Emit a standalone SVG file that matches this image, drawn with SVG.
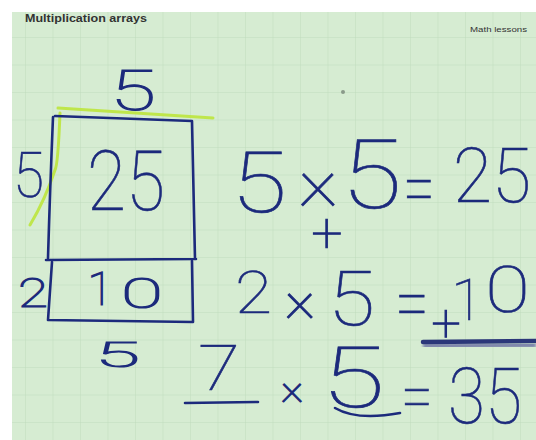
<svg xmlns="http://www.w3.org/2000/svg" width="536" height="440" viewBox="0 0 536 440">
<style>
.hw{font-family:Roboto,"Liberation Sans",sans-serif;font-weight:100;fill:#1c2a7c;stroke:#1c2a7c;stroke-width:0.6;}
.sm{stroke-width:1.1;}
.ink{fill:none;stroke:#1c2a7c;stroke-width:2.6;stroke-linecap:round;stroke-linejoin:round;}
.hl{fill:none;stroke:#bde63c;stroke-width:3;stroke-linecap:round;opacity:0.9;}
.ui{font-family:"Liberation Sans",Arial,sans-serif;fill:#333;}
</style>
<defs>
<pattern id="grid" x="25" y="37" width="27.5" height="27.5" patternUnits="userSpaceOnUse">
<path d="M0,0 V27.5 M0,0 H27.5" fill="none" stroke="#c0dbbd" stroke-width="1"/>
</pattern>
<filter id="blur" x="-10%" y="-100%" width="120%" height="300%"><feGaussianBlur stdDeviation="1.5"/></filter>
</defs>
<rect width="536" height="440" fill="#ffffff"/>
<rect x="12" y="12" width="524" height="428" fill="#d6ecd2"/>
<rect x="12" y="12" width="524" height="428" fill="url(#grid)"/>
<text class="ui" x="25" y="22" font-size="10" font-weight="bold" textLength="122" lengthAdjust="spacingAndGlyphs">Multiplication arrays</text>
<text class="ui" x="470" y="32" font-size="8" textLength="57" lengthAdjust="spacingAndGlyphs">Math lessons</text>
<circle cx="343" cy="92" r="2" fill="#8a9a8a"/>

<g id="highlight">
<path class="hl" d="M58,108 L213,118"/>
<path class="hl" d="M60,113 Q58,165 55,170 Q45,200 30,225"/>
</g>

<g id="box-25">
<path class="ink" d="M55,116 L192,121 L195,259 M53,117 Q50,190 48,258 M46,260 L196,259"/>
<text class="hw" x="87" y="210" font-size="83" textLength="78" lengthAdjust="spacingAndGlyphs">25</text>
</g>
<g id="box-10">
<path class="ink" d="M52,262 L48,320 L193,322 M192,261 L193,322"/>
<text class="hw sm" x="100" y="305" font-size="46" text-anchor="middle">1</text>
<text class="hw sm" x="121" y="308" font-size="43" textLength="42" lengthAdjust="spacingAndGlyphs">0</text>
</g>
<g id="labels">
<text class="hw sm" x="110" y="110" font-size="56" textLength="46" lengthAdjust="spacingAndGlyphs">5</text>
<text class="hw" x="13" y="197" font-size="63" textLength="31" lengthAdjust="spacingAndGlyphs">5</text>
<text class="hw sm" x="18" y="307" font-size="40" textLength="30" lengthAdjust="spacingAndGlyphs">2</text>
<text class="hw sm" x="95" y="367" font-size="35" textLength="45" lengthAdjust="spacingAndGlyphs">5</text>
</g>

<g id="eq1">
<text class="hw" x="231" y="212" font-size="86" textLength="56" lengthAdjust="spacingAndGlyphs">5</text>
<text class="hw" x="318" y="206" font-size="80" text-anchor="middle">×</text>
<text class="hw" x="341" y="208" font-size="97" textLength="61" lengthAdjust="spacingAndGlyphs">5</text>
<text class="hw" x="403" y="215" font-size="80" textLength="32" lengthAdjust="spacingAndGlyphs">=</text>
<text class="hw" x="453" y="202" font-size="76" textLength="78" lengthAdjust="spacingAndGlyphs">25</text>
</g>
<g id="plus">
<text class="hw sm" x="327" y="252" font-size="55" text-anchor="middle">+</text>
</g>
<g id="eq2">
<text class="hw" x="235" y="313" font-size="60" textLength="37" lengthAdjust="spacingAndGlyphs">2</text>
<text class="hw sm" x="300" y="318" font-size="60" text-anchor="middle">×</text>
<text class="hw" x="328" y="325" font-size="76" textLength="47" lengthAdjust="spacingAndGlyphs">5</text>
<text class="hw" x="395" y="330" font-size="80" textLength="34" lengthAdjust="spacingAndGlyphs">=</text>
<text class="hw sm" x="446" y="341" font-size="52" text-anchor="middle">+</text>
<text class="hw" x="467" y="320" font-size="58" text-anchor="middle">1</text>
<text class="hw" x="485" y="312" font-size="65" textLength="45" lengthAdjust="spacingAndGlyphs">0</text>
<path d="M423,346 L536,345" fill="none" stroke="#7d84ab" stroke-width="6" filter="url(#blur)"/>
<path d="M423,342 L536,341" fill="none" stroke="#2b3779" stroke-width="4.5" stroke-linecap="round"/>
</g>
<g id="eq3">
<text class="hw" x="198" y="390" font-size="63" textLength="42" lengthAdjust="spacingAndGlyphs">7</text>
<path class="ink" d="M185,403 L258,402"/>
<text class="hw sm" x="292" y="402" font-size="45" text-anchor="middle">×</text>
<text class="hw" x="321" y="407" font-size="86" textLength="64" lengthAdjust="spacingAndGlyphs">5</text>
<path class="ink" d="M335,408 Q357,421 400,413"/>
<text class="hw" x="401" y="420" font-size="70" textLength="32" lengthAdjust="spacingAndGlyphs">=</text>
<text class="hw" x="448" y="423" font-size="78" textLength="74" lengthAdjust="spacingAndGlyphs">35</text>
</g>
</svg>
